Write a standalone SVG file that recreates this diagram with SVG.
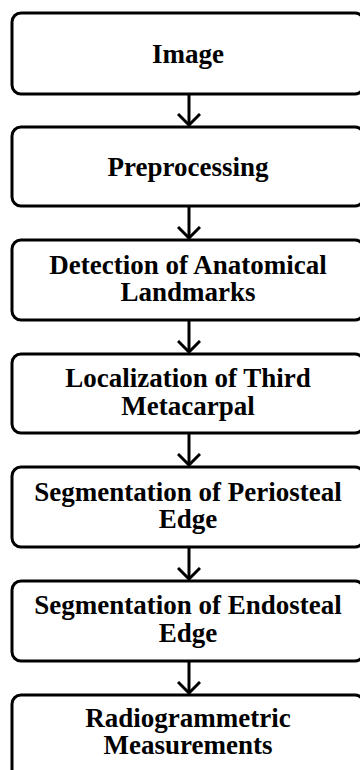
<svg xmlns="http://www.w3.org/2000/svg" width="360" height="770" viewBox="0 0 360 770">
<defs>
<style>
.box{fill:#fff;stroke:#000;stroke-width:3}
.t{font-family:"Liberation Serif","Times New Roman",serif;font-weight:bold;font-size:27px;fill:#000;text-anchor:middle}
.c{fill:none;stroke:#000;stroke-width:3}
</style>
<marker id="ah" viewBox="0 0 14 24" refX="12" refY="12" markerWidth="14" markerHeight="24" markerUnits="userSpaceOnUse" orient="auto">
<path d="M1,1 L12,12 L1,23" fill="none" stroke="#000" stroke-width="3"/>
</marker>
</defs>
<rect width="360" height="770" fill="#fff"/>
<g id="n1"><rect class="box" x="12" y="13" width="352" height="81" rx="9"/><text class="t" x="188" y="63">Image</text></g>
<g id="n2"><rect class="box" x="12" y="127" width="352" height="79" rx="9"/><text class="t" x="188" y="176">Preprocessing</text></g>
<g id="n3"><rect class="box" x="12" y="240" width="352" height="80" rx="9"/><text class="t" x="188" y="274">Detection of Anatomical</text><text class="t" x="188" y="301">Landmarks</text></g>
<g id="n4"><rect class="box" x="12" y="354" width="352" height="79" rx="9"/><text class="t" x="188" y="387">Localization of Third</text><text class="t" x="188" y="415">Metacarpal</text></g>
<g id="n5"><rect class="box" x="12" y="467" width="352" height="80" rx="9"/><text class="t" x="188" y="501">Segmentation of Periosteal</text><text class="t" x="188" y="528">Edge</text></g>
<g id="n6"><rect class="box" x="12" y="581" width="352" height="80" rx="9"/><text class="t" x="188" y="614">Segmentation of Endosteal</text><text class="t" x="188" y="642">Edge</text></g>
<g id="n7"><rect class="box" x="12" y="695" width="352" height="90" rx="9"/><text class="t" x="188" y="727">Radiogrammetric</text><text class="t" x="188" y="754">Measurements</text></g>
<g id="connectors">
<line class="c" x1="189" y1="95" x2="189" y2="125" marker-end="url(#ah)"/>
<line class="c" x1="189" y1="207" x2="189" y2="238" marker-end="url(#ah)"/>
<line class="c" x1="189" y1="321" x2="189" y2="352" marker-end="url(#ah)"/>
<line class="c" x1="189" y1="434" x2="189" y2="465" marker-end="url(#ah)"/>
<line class="c" x1="189" y1="548" x2="189" y2="579" marker-end="url(#ah)"/>
<line class="c" x1="189" y1="662" x2="189" y2="693" marker-end="url(#ah)"/>
</g>
</svg>
